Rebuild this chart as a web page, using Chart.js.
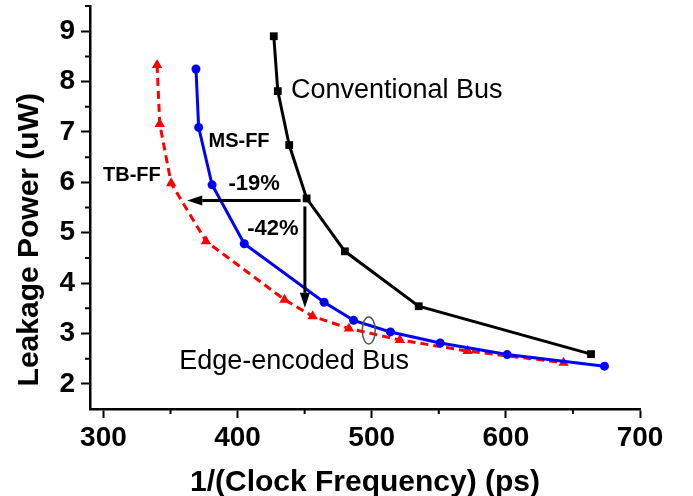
<!DOCTYPE html>
<html>
<head>
<meta charset="utf-8">
<script src="https://cdn.jsdelivr.net/npm/chart.js@4.4.1/dist/chart.umd.min.js"></script>
<style>
  html, body { margin: 0; padding: 0; background: #fff; }
  #wrap { width: 693px; height: 496px; }
</style>
</head>
<body>
<div id="wrap"><canvas id="leakageChart"></canvas></div>
<script>
// values
const convPeriod = [427, 430, 438.5, 451.5, 480, 535, 663.5];
const convPower = [8.9, 7.81, 6.74, 5.68, 4.63, 3.54, 2.59];

const msffPeriod = [369, 371, 381, 405, 464.5, 486.5, 514, 551, 601, 673.5];
const msffPower = [8.25, 7.09, 5.95, 4.78, 3.62, 3.26, 3.03, 2.81, 2.58, 2.35];

const tbffPeriod = [340, 342, 350.5, 376.5, 435, 456, 483, 521, 571.5, 643];
const tbffPower = [8.33, 7.16, 5.98, 4.83, 3.67, 3.34, 3.1, 2.87, 2.65, 2.42];

const xTicks = [300, 400, 500, 600, 700];
const xMinorTicks = [350, 450, 550, 650];
const yTicks = [2, 3, 4, 5, 6, 7, 8, 9];
const yMinorTicks = [2.5, 3.5, 4.5, 5.5, 6.5, 7.5, 8.5, 9.5];

const yTitle = "Leakage Power (uW)";

// annotations, in data units
const arrows = [
  { from: [447, 5.64], to: [362.5, 5.64] },
  { from: [450.2, 5.52], to: [450.2, 3.51] }
];
const notes = [
  { text: "Conventional Bus", at: [439.8, 7.82], bold: false, size: 27, align: "left" },
  { text: "Edge-encoded Bus", at: [356.5, 2.45], bold: false, size: 27, align: "left" },
  { text: "MS-FF", at: [401.1, 6.82], bold: true, size: 20, align: "center" },
  { text: "TB-FF", at: [321.2, 6.13], bold: true, size: 20, align: "center" },
  { text: "-19%", at: [412.3, 5.97], bold: true, size: 22, align: "center" },
  { text: "-42%", at: [426.4, 5.07], bold: true, size: 22, align: "center" }
];
const ellipseAt = [497.8, 3.06];

const FONT = "'Liberation Sans', Arial, sans-serif";

function toPoints(xs, ys) {
  return xs.map((x, i) => ({ x: x, y: ys[i] }));
}

const axisExtras = {
  id: "axisExtras",
  afterDraw(chart) {
    const { ctx, scales, chartArea } = chart;
    ctx.save();
    ctx.strokeStyle = "#000";
    ctx.lineWidth = 2;
    ctx.beginPath();
    xMinorTicks.forEach((v) => {
      const x = scales.x.getPixelForValue(v);
      ctx.moveTo(x, chartArea.bottom);
      ctx.lineTo(x, chartArea.bottom + 5);
    });
    yMinorTicks.forEach((v) => {
      const y = scales.y.getPixelForValue(v);
      ctx.moveTo(chartArea.left, y);
      ctx.lineTo(chartArea.left - 5, y);
    });
    ctx.stroke();

    // y title sits a bit below the middle of the axis in the original
    ctx.translate(30, chartArea.top + (chartArea.bottom - chartArea.top) * 0.58);
    ctx.rotate(-Math.PI / 2);
    ctx.fillStyle = "#000";
    ctx.font = "bold 30px " + FONT;
    ctx.textAlign = "center";
    ctx.textBaseline = "middle";
    ctx.fillText(yTitle, 0, 0);
    ctx.restore();
  }
};

const annotations = {
  id: "annotations",
  afterDatasetsDraw(chart) {
    const { ctx, scales } = chart;
    const px = (v) => scales.x.getPixelForValue(v);
    const py = (v) => scales.y.getPixelForValue(v);

    ctx.save();
    ctx.strokeStyle = "#000";
    ctx.fillStyle = "#000";
    ctx.lineWidth = 3;
    arrows.forEach((a) => {
      const x1 = px(a.from[0]), y1 = py(a.from[1]);
      const x2 = px(a.to[0]), y2 = py(a.to[1]);
      const ang = Math.atan2(y2 - y1, x2 - x1);
      const headLen = 15, headW = 5;
      const bx = x2 - Math.cos(ang) * headLen;
      const by = y2 - Math.sin(ang) * headLen;
      ctx.beginPath();
      ctx.moveTo(x1, y1);
      ctx.lineTo(bx, by);
      ctx.stroke();
      ctx.beginPath();
      ctx.moveTo(x2, y2);
      ctx.lineTo(bx + Math.sin(ang) * headW, by - Math.cos(ang) * headW);
      ctx.lineTo(bx - Math.sin(ang) * headW, by + Math.cos(ang) * headW);
      ctx.closePath();
      ctx.fill();
    });

    ctx.textBaseline = "middle";
    notes.forEach((n) => {
      ctx.font = (n.bold ? "bold " : "") + n.size + "px " + FONT;
      ctx.textAlign = n.align;
      ctx.fillText(n.text, px(n.at[0]), py(n.at[1]));
    });

    ctx.strokeStyle = "#555";
    ctx.lineWidth = 1.5;
    ctx.beginPath();
    ctx.ellipse(px(ellipseAt[0]), py(ellipseAt[1]), 6.5, 13.5, 0, 0, Math.PI * 2);
    ctx.stroke();
    ctx.restore();
  }
};

new Chart(document.getElementById("leakageChart"), {
  type: "scatter",
  data: {
    datasets: [
      {
        label: "Conventional Bus",
        data: toPoints(convPeriod, convPower),
        showLine: true,
        borderColor: "#000",
        backgroundColor: "#000",
        borderWidth: 3,
        pointStyle: "rect",
        pointRadius: 5.5,
        pointBorderWidth: 0
      },
      {
        label: "MS-FF",
        data: toPoints(msffPeriod, msffPower),
        showLine: true,
        borderColor: "#0000ff",
        backgroundColor: "#0000ff",
        borderWidth: 3,
        pointStyle: "circle",
        pointRadius: 4.5,
        pointBorderWidth: 0
      },
      {
        label: "TB-FF",
        data: toPoints(tbffPeriod, tbffPower),
        showLine: true,
        borderColor: "#ff0000",
        backgroundColor: "#ff0000",
        borderWidth: 3,
        borderDash: [8, 5],
        pointStyle: "triangle",
        pointRadius: 6,
        pointBorderWidth: 0
      }
    ]
  },
  options: {
    responsive: true,
    maintainAspectRatio: false,
    animation: false,
    layout: { padding: { top: 2, right: 53, left: 0, bottom: 0 } },
    plugins: {
      legend: { display: false },
      tooltip: { enabled: false }
    },
    scales: {
      x: {
        type: "linear",
        min: 290,
        max: 700,
        afterBuildTicks: (scale) => { scale.ticks = xTicks.map((v) => ({ value: v })); },
        afterFit: (scale) => {
          scale.height = 87;
          scale.paddingLeft = 0;
          scale.paddingRight = 0;
        },
        border: { color: "#000", width: 2.5 },
        grid: { drawOnChartArea: false, drawTicks: true, tickLength: 9, tickColor: "#000", tickWidth: 2 },
        ticks: {
          color: "#000",
          autoSkip: false,
          maxRotation: 0,
          padding: 3,
          font: { family: FONT, size: 28, weight: "bold" }
        },
        title: {
          display: true,
          text: "1/(Clock Frequency) (ps)",
          color: "#000",
          font: { family: FONT, size: 30, weight: "bold" },
          padding: { top: 6, bottom: -5 }
        }
      },
      y: {
        type: "linear",
        min: 1.5,
        max: 9.5,
        afterBuildTicks: (scale) => { scale.ticks = yTicks.map((v) => ({ value: v })); },
        afterFit: (scale) => {
          scale.width = 90;
          scale.paddingTop = 0;
          scale.paddingBottom = 0;
        },
        border: { color: "#000", width: 2.5 },
        grid: { drawOnChartArea: false, drawTicks: true, tickLength: 9, tickColor: "#000", tickWidth: 2 },
        ticks: {
          color: "#000",
          autoSkip: false,
          padding: 6,
          font: { family: FONT, size: 28, weight: "bold" }
        },
        title: { display: false }
      }
    }
  },
  plugins: [annotations, axisExtras]
});
</script>
</body>
</html>
